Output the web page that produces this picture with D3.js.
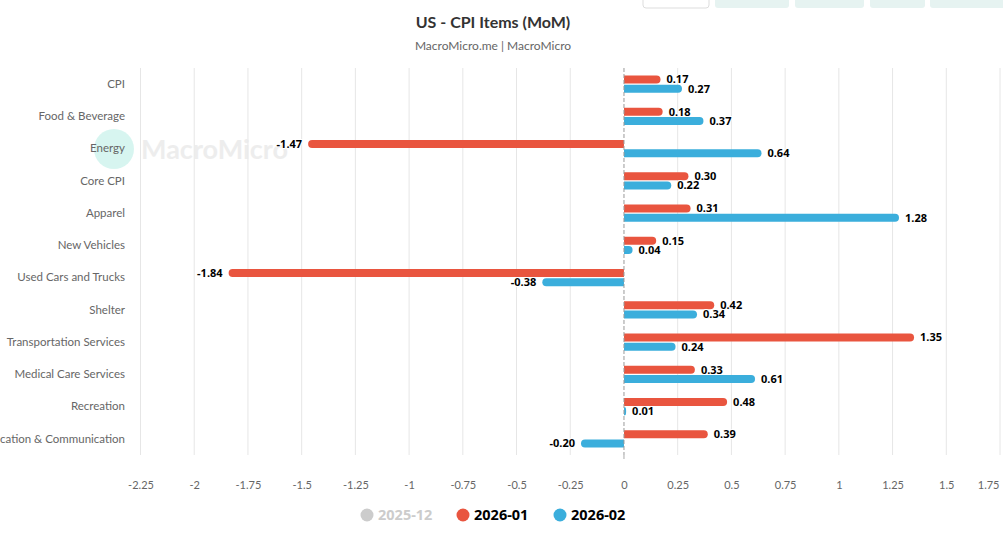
<!DOCTYPE html>
<html>
<head>
<meta charset="utf-8">
<script src="https://cdn.jsdelivr.net/npm/d3@7"></script>
<style>
  body { margin: 0; background: #fff; }
  svg { font-family: "Noto Sans", "Open Sans", sans-serif; }
</style>
</head>
<body>
<div id="chart"></div>
<script>
// categories, top to bottom
let categories = ["CPI", "Food & Beverage", "Energy", "Core CPI", "Apparel", "New Vehicles",
  "Used Cars and Trucks", "Shelter", "Transportation Services", "Medical Care Services",
  "Recreation", "Education & Communication"];

let jan2026 = [0.17, 0.18, -1.47, 0.30, 0.31, 0.15, -1.84, 0.42, 1.35, 0.33, 0.48, 0.39];
let feb2026 = [0.27, 0.37, 0.64, 0.22, 1.28, 0.04, -0.38, 0.34, 0.24, 0.61, 0.01, -0.20];

let xTicks = [-2.25, -2, -1.75, -1.5, -1.25, -1, -0.75, -0.5, -0.25, 0, 0.25, 0.5, 0.75, 1, 1.25, 1.5, 1.75];

let legendItems = [
  {name: "2025-12", color: "#cccccc", hidden: true},
  {name: "2026-01", color: "#e9553f", hidden: false},
  {name: "2026-02", color: "#3baedc", hidden: false}
];

let W = 1003, H = 553;
let plot = {left: 140.5, right: 1000, top: 68, bottom: 455};

let svg = d3.select("#chart").append("svg")
    .attr("width", W).attr("height", H);

/* top toolbar buttons (cut off) */
let btns = [[643, 66, "#fff"], [715, 74, "#e6f3f1"], [795, 69, "#e6f3f1"], [870, 55, "#e6f3f1"], [930, 80, "#e6f3f1"]];
btns.forEach(function(b) {
  svg.append("rect").attr("x", b[0]).attr("y", -6).attr("width", b[1]).attr("height", 14)
    .attr("rx", 3).attr("fill", b[2])
    .attr("stroke", b[2] === "#fff" ? "#ddd" : "none");
});

/* title */
svg.append("text").attr("x", 493).attr("y", 28).attr("text-anchor", "middle")
  .attr("font-size", 16).attr("font-weight", "bold").attr("fill", "#333")
  .attr("font-family", "Lato, sans-serif")
  .text("US - CPI Items (MoM)");
svg.append("text").attr("x", 493).attr("y", 50).attr("text-anchor", "middle")
  .attr("font-size", 12).attr("fill", "#666").attr("font-family", "Lato, sans-serif")
  .text("MacroMicro.me | MacroMicro");

let x = d3.scaleLinear().domain([-2.25, 1.75]).range([plot.left, plot.right]);
let y = d3.scaleBand().domain(categories).range([plot.top, plot.bottom]);

/* grid */
svg.append("g").selectAll("line").data(xTicks.filter(function(d) { return d !== 0; }))
  .enter().append("line")
  .attr("x1", function(d) { return x(d); }).attr("x2", function(d) { return x(d); })
  .attr("y1", plot.top).attr("y2", plot.bottom)
  .attr("stroke", "#e6e6e6").attr("stroke-width", 1);

/* watermark */
svg.append("circle").attr("cx", 114).attr("cy", 149).attr("r", 20).attr("fill", "#d3f4ee").attr("opacity", 0.9);
svg.append("text").attr("x", 141).attr("y", 159).attr("font-size", 27).attr("font-weight", "bold")
  .attr("fill", "#ebebeb").attr("font-family", "Lato, sans-serif").attr("opacity", 0.85)
  .text("MacroMicro");

/* x axis */
let xAxis = d3.axisBottom(x).tickValues(xTicks).tickSize(0).tickPadding(0)
  .tickFormat(function(d) { return String(d); });
let xg = svg.append("g").attr("transform", "translate(0," + 481 + ")").call(xAxis);
xg.select(".domain").remove();
xg.selectAll("text").attr("font-size", 11).attr("fill", "#666").attr("font-family", "Lato, sans-serif");
xg.selectAll(".tick").filter(function(d) { return d === 1.75; }).select("text")
  .attr("text-anchor", "end").attr("x", -1);
// small tick at zero
svg.append("line").attr("x1", x(0)).attr("x2", x(0)).attr("y1", plot.bottom).attr("y2", plot.bottom + 4)
  .attr("stroke", "#aaa");

/* y axis */
let yAxis = d3.axisLeft(y).tickSize(0).tickPadding(0);
let yg = svg.append("g").attr("transform", "translate(125,0)").call(yAxis);
yg.select(".domain").remove();
yg.selectAll("text").attr("font-size", 11.5).attr("fill", "#666").attr("font-family", "Lato, sans-serif");

/* bars */
let barH = 8, r = 4;
function barPath(v, yc) {
  let x0 = x(0), x1 = x(v), top = yc - barH / 2, bot = yc + barH / 2;
  let len = Math.abs(x1 - x0);
  let rr = Math.min(r, len / 2);
  if (v >= 0) {
    return "M" + x0 + "," + top + "H" + (x1 - rr) +
      "A" + rr + "," + r + " 0 0 1 " + (x1 - rr) + "," + bot + "H" + x0 + "Z";
  }
  return "M" + x0 + "," + top + "H" + (x1 + rr) +
    "A" + rr + "," + r + " 0 0 0 " + (x1 + rr) + "," + bot + "H" + x0 + "Z";
}

let series = [
  {values: jan2026, color: legendItems[1].color, offset: -4.6},
  {values: feb2026, color: legendItems[2].color, offset: 4.6}
];

series.forEach(function(s) {
  let g = svg.append("g");
  g.selectAll("path").data(s.values).enter().append("path")
    .attr("d", function(d, i) { return barPath(d, y(categories[i]) + y.bandwidth() / 2 + s.offset); })
    .attr("fill", s.color);
  g.selectAll("text").data(s.values).enter().append("text")
    .attr("x", function(d) { return d >= 0 ? x(d) + 6 : x(d) - 6; })
    .attr("y", function(d, i) { return y(categories[i]) + y.bandwidth() / 2 + s.offset; })
    .attr("dy", "0.35em")
    .attr("text-anchor", function(d) { return d >= 0 ? "start" : "end"; })
    .attr("font-size", 11).attr("font-weight", "bold").attr("fill", "#000")
    .attr("stroke", "#fff").attr("stroke-width", 2).attr("paint-order", "stroke")
    .text(function(d) { return d.toFixed(2); });
});

/* zero line */
svg.append("line").attr("x1", x(0)).attr("x2", x(0)).attr("y1", plot.top).attr("y2", plot.bottom)
  .attr("stroke", "#999").attr("stroke-dasharray", "4,2");

/* legend */
let lx = [367, 463, 560];
let lg = svg.append("g").selectAll("g").data(legendItems).enter().append("g")
  .attr("transform", function(d, i) { return "translate(" + lx[i] + ",515)"; });
lg.append("circle").attr("r", 6.5).attr("fill", function(d) { return d.hidden ? "#cccccc" : d.color; });
lg.append("text").attr("x", 11).attr("dy", "0.35em").attr("font-size", 14.5).attr("font-weight", "bold")
  .attr("fill", function(d) { return d.hidden ? "#cccccc" : "#000"; })
  .text(function(d) { return d.name; });
</script>
</body>
</html>
